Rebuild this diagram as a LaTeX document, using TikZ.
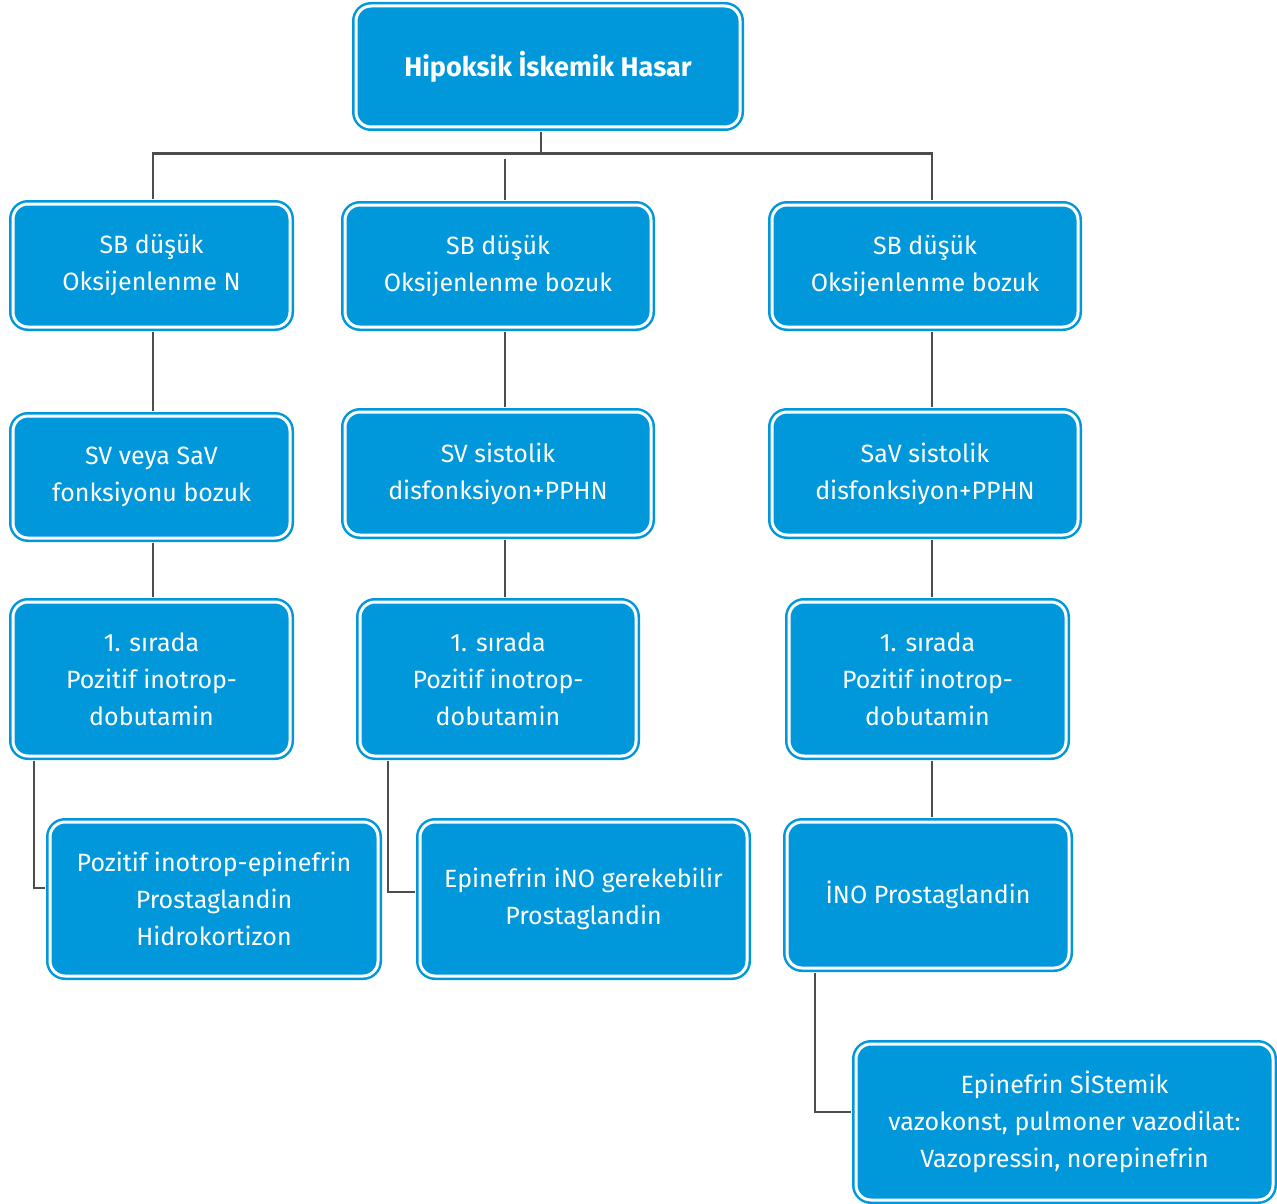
\documentclass[tikz,border=0pt]{standalone}
\usepackage{fontspec}
\setmainfont{Fira Sans}
\usetikzlibrary{calc}
\definecolor{boxblue}{RGB}{0,152,218}
\definecolor{linegray}{RGB}{77,77,77}
\tikzset{
  box/.style={draw=boxblue, double=white, double distance=3pt, line width=2.5pt,
    fill=boxblue, rounded corners=15pt, text=white, align=center,
    font=\fontsize{25}{37}\selectfont, inner sep=0pt},
  conn/.style={draw=linegray, line width=2.8pt},
}
\begin{document}
\begin{tikzpicture}[x=1pt,y=-1pt]
\fill[white] (0,0) rectangle (1277,1204);
\useasboundingbox (0,0) rectangle (1277,1204);

% boxes: size = outer size minus the double border
\node[box, minimum width=384pt, minimum height=121pt, font=\fontsize{27}{37}\selectfont\bfseries] (top) at (548,66.5) {Hipoksik İskemik Hasar};

\node[box, minimum width=277pt, minimum height=123pt] (A1) at (151.5,265.5) {SB düşük\\Oksijenlenme N};
\node[box, minimum width=306pt, minimum height=122pt] (B1) at (498,266) {SB düşük\\Oksijenlenme bozuk};
\node[box, minimum width=306pt, minimum height=122pt] (C1) at (925,266) {SB düşük\\Oksijenlenme bozuk};

\node[box, minimum width=277pt, minimum height=122pt] (A2) at (151.5,477) {SV veya SaV\\fonksiyonu bozuk};
\node[box, minimum width=306pt, minimum height=123pt] (B2) at (498,473.5) {SV sistolik\\disfonksiyon+PPHN};
\node[box, minimum width=306pt, minimum height=123pt] (C2) at (925,473.5) {SaV sistolik\\disfonksiyon+PPHN};

\node[box, minimum width=277pt, minimum height=154pt] (A3) at (151.5,679) {1. sırada\\Pozitif inotrop-\\dobutamin};
\node[box, minimum width=276pt, minimum height=154pt] (B3) at (498,679) {1. sırada\\Pozitif inotrop-\\dobutamin};
\node[box, minimum width=277pt, minimum height=154pt] (C3) at (927.5,679) {1. sırada\\Pozitif inotrop-\\dobutamin};

\node[box, minimum width=328pt, minimum height=154pt] (A4) at (214,899) {Pozitif inotrop-epinefrin\\Prostaglandin\\Hidrokortizon};
\node[box, minimum width=327pt, minimum height=154pt] (B4) at (583.5,899) {Epinefrin iNO gerekebilir\\Prostaglandin};
\node[box, minimum width=282pt, minimum height=146pt] (C4) at (928,895) {İNO Prostaglandin};

\node[box, minimum width=417pt, minimum height=156pt] (C5) at (1064.5,1122) {Epinefrin SİStemik\\vazokonst, pulmoner vazodilat:\\Vazopressin, norepinefrin};

% connectors
\draw[conn] ($(top.south)+(-7,4)$) -- ++(0,21) coordinate (bus);
\draw[conn] ($(A1.north)+(1.5,-4)$) |- (bus) -| ($(C1.north)+(7,-4)$);
\draw[conn] ($(B1.north)+(7,-4)$) -- ($(B1.north)+(7,-45)$);

\draw[conn] ($(A1.south)+(1.5,4)$) -- ($(A2.north)+(1.5,-4)$);
\draw[conn] ($(B1.south)+(7,4)$) -- ($(B2.north)+(7,-4)$);
\draw[conn] ($(C1.south)+(7,4)$) -- ($(C2.north)+(7,-4)$);

\draw[conn] ($(A2.south)+(1.5,4)$) -- ($(A3.north)+(1.5,-4)$);
\draw[conn] ($(B2.south)+(7,4)$) -- ($(B3.north)+(7,-4)$);
\draw[conn] ($(C2.south)+(7,4)$) -- ($(C3.north)+(4.5,-4)$);

\draw[conn] ($(A3.south)+(-117.5,4)$) |- ($(A4.west)+(-4,-11)$);
\draw[conn] ($(B3.south)+(-110,4)$) |- ($(B4.west)+(-4,-7)$);
\draw[conn] ($(C3.south)+(4.5,4)$) -- ($(C4.north)+(4,-4)$);
\draw[conn] ($(C4.south)+(-113,4)$) |- ($(C5.west)+(-4,-10)$);
\end{tikzpicture}
\end{document}
